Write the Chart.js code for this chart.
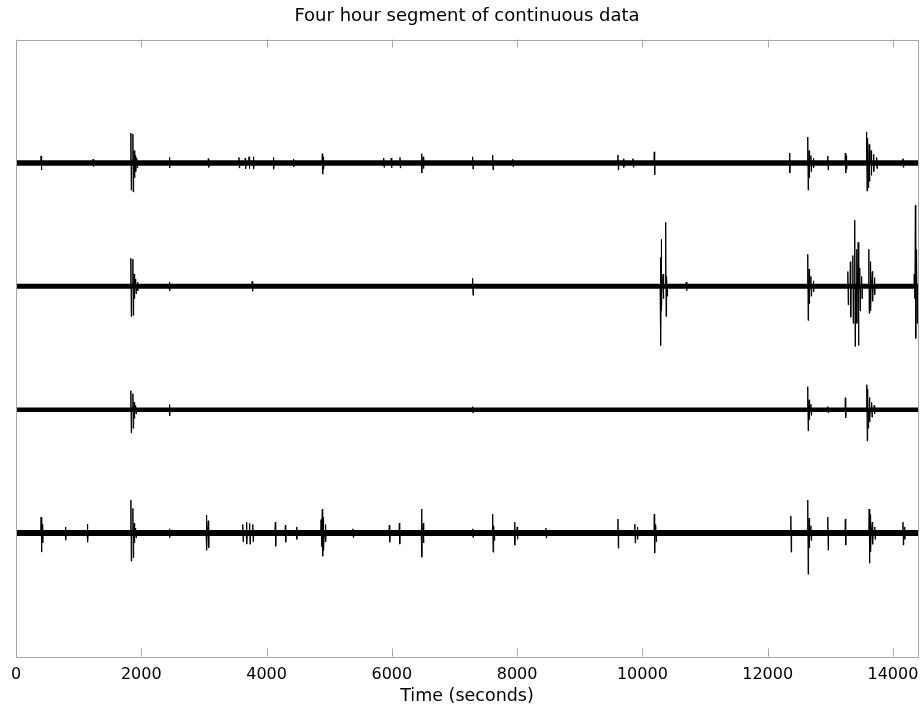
<!DOCTYPE html>
<html>
<head>
<meta charset="utf-8">
<title>Four hour segment of continuous data</title>
<script src="https://cdn.jsdelivr.net/npm/chart.js@4.4.1/dist/chart.umd.min.js"></script>
<style>
  html, body { margin: 0; padding: 0; background: #fff; }
  #wrap { width: 924px; height: 711px; }
</style>
</head>
<body>
<div id="wrap"><canvas id="myChart" width="924" height="711"></canvas></div>
<script>
// x axis: seconds, 4 hours
const xMin = 0;
const xMax = 14400;
const xTicks = [0, 2000, 4000, 6000, 8000, 10000, 12000, 14000];

// trace offsets (top to bottom) on the y scale
const traceNames = ['trace 1', 'trace 2', 'trace 3', 'trace 4'];
const traceOffsets = [4, 3, 2, 1];

// events: [time (s), amplitude up, amplitude down]
const trace1Events = [
    [400, 0.057, 0.057], [1230, 0.03, 0.03],
    [1834, 0.244, 0.22], [1866, 0.235, 0.235], [1885, 0.1, 0.12], [1905, 0.06, 0.07], [1930, 0.04, 0.04],
    [2450, 0.045, 0.04], [3070, 0.035, 0.035],
    [3560, 0.045, 0.04], [3660, 0.04, 0.045], [3720, 0.05, 0.045], [3790, 0.05, 0.05],
    [4110, 0.045, 0.05], [4430, 0.03, 0.03], [4890, 0.075, 0.09], [4910, 0.05, 0.05],
    [5870, 0.04, 0.035], [5990, 0.04, 0.04], [6130, 0.045, 0.04],
    [6475, 0.075, 0.08], [6500, 0.05, 0.045],
    [7290, 0.05, 0.05], [7610, 0.065, 0.057], [7930, 0.03, 0.03],
    [9610, 0.065, 0.057], [9700, 0.035, 0.035], [9850, 0.035, 0.035], [10190, 0.09, 0.097],
    [12350, 0.081, 0.081], [12640, 0.211, 0.219], [12660, 0.1, 0.12], [12690, 0.06, 0.07], [12730, 0.04, 0.04],
    [12960, 0.057, 0.057], [13240, 0.081, 0.081], [13260, 0.06, 0.05],
    [13580, 0.252, 0.227], [13600, 0.2, 0.2], [13620, 0.15, 0.15], [13650, 0.1, 0.1], [13690, 0.07, 0.07], [13740, 0.045, 0.045],
    [14160, 0.035, 0.035]
];
const trace2Events = [
    [1834, 0.227, 0.244], [1866, 0.22, 0.235], [1885, 0.1, 0.1], [1910, 0.06, 0.06], [1940, 0.035, 0.035],
    [2450, 0.035, 0.035], [3770, 0.04, 0.04], [7290, 0.065, 0.073],
    [10288, 0.235, 0.479], [10304, 0.381, 0.2], [10330, 0.1, 0.1], [10372, 0.519, 0.244], [10390, 0.08, 0.08],
    [10700, 0.035, 0.035],
    [12640, 0.26, 0.276], [12660, 0.14, 0.14], [12690, 0.08, 0.08], [12730, 0.045, 0.045],
    [13280, 0.12, 0.15], [13320, 0.2, 0.25], [13360, 0.25, 0.3], [13390, 0.536, 0.487], [13420, 0.3, 0.3],
    [13445, 0.357, 0.479], [13470, 0.15, 0.2], [13500, 0.08, 0.1],
    [13615, 0.30, 0.219], [13640, 0.2, 0.2], [13670, 0.12, 0.12], [13705, 0.07, 0.07],
    [14340, 0.1, 0.1], [14358, 0.657, 0.422], [14380, 0.3, 0.3]
];
const trace3Events = [
    [1834, 0.154, 0.187], [1866, 0.13, 0.15], [1885, 0.06, 0.07], [1910, 0.035, 0.035],
    [2450, 0.041, 0.049], [7290, 0.025, 0.025],
    [12640, 0.187, 0.17], [12660, 0.08, 0.08], [12690, 0.045, 0.045],
    [12960, 0.025, 0.025], [13240, 0.097, 0.065],
    [13583, 0.203, 0.252], [13600, 0.17, 0.15], [13625, 0.1, 0.1], [13660, 0.06, 0.06], [13700, 0.035, 0.035]
];
const trace4Events = [
    [400, 0.13, 0.154], [420, 0.07, 0.08], [790, 0.049, 0.057], [1140, 0.073, 0.073],
    [1834, 0.268, 0.227], [1866, 0.2, 0.2], [1885, 0.08, 0.08], [1910, 0.04, 0.04],
    [2450, 0.035, 0.035], [3040, 0.146, 0.138], [3070, 0.1, 0.12],
    [3620, 0.07, 0.07], [3680, 0.089, 0.089], [3730, 0.08, 0.09], [3780, 0.07, 0.07],
    [4140, 0.089, 0.106], [4300, 0.065, 0.073], [4480, 0.05, 0.05],
    [4870, 0.11, 0.11], [4890, 0.195, 0.187], [4910, 0.13, 0.14], [4940, 0.07, 0.07],
    [5380, 0.035, 0.035], [5960, 0.065, 0.073], [6120, 0.081, 0.089],
    [6475, 0.195, 0.195], [6500, 0.08, 0.08],
    [7290, 0.035, 0.035], [7610, 0.154, 0.154], [7630, 0.06, 0.06], [7960, 0.089, 0.097], [8000, 0.05, 0.05],
    [8460, 0.04, 0.04], [9610, 0.114, 0.122], [9880, 0.073, 0.081], [9920, 0.05, 0.05],
    [10190, 0.154, 0.162], [10215, 0.07, 0.07],
    [12370, 0.138, 0.154], [12640, 0.268, 0.333], [12660, 0.12, 0.12], [12690, 0.06, 0.06],
    [12960, 0.13, 0.138], [13240, 0.114, 0.097],
    [13620, 0.195, 0.244], [13640, 0.15, 0.15], [13670, 0.09, 0.09], [13710, 0.05, 0.05],
    [14160, 0.089, 0.097], [14185, 0.05, 0.05]
];
const allEvents = [trace1Events, trace2Events, trace3Events, trace4Events];

// thickness of the background noise band of each trace
const bandWidths = [5.5, 5, 4.5, 6];

function tracePoints(events, off) {
    let pts = [{x: xMin, y: off}];
    for (const [t, up, down] of events) {
        pts.push({x: t - 6, y: off});
        pts.push({x: t, y: off + up});
        pts.push({x: t + 6, y: off - down});
        pts.push({x: t + 12, y: off});
    }
    pts.push({x: xMax, y: off});
    return pts;
}

let datasets = [];
for (let i = 0; i < traceNames.length; i++) {
    datasets.push({
        label: traceNames[i] + ' noise',
        data: [{x: xMin, y: traceOffsets[i]}, {x: xMax, y: traceOffsets[i]}],
        borderColor: '#000',
        borderWidth: bandWidths[i],
        borderCapStyle: 'butt',
        pointRadius: 0
    });
    datasets.push({
        label: traceNames[i],
        data: tracePoints(allEvents[i], traceOffsets[i]),
        borderColor: '#000',
        borderWidth: 1,
        pointRadius: 0
    });
}

// box round the plot with inward tick marks
const boxPlugin = {
    id: 'box',
    afterDraw(chart) {
        const ctx = chart.ctx;
        const a = chart.chartArea;
        const xs = chart.scales.x;
        ctx.save();
        ctx.strokeStyle = '#a8a8a8';
        ctx.lineWidth = 1;
        ctx.strokeRect(Math.round(a.left) + 0.5, Math.round(a.top) + 0.5,
            Math.round(a.right - a.left), Math.round(a.bottom - a.top));
        ctx.beginPath();
        for (const v of xTicks) {
            const px = Math.round(xs.getPixelForValue(v)) + 0.5;
            ctx.moveTo(px, a.top);
            ctx.lineTo(px, a.top + 8);
            ctx.moveTo(px, a.bottom);
            ctx.lineTo(px, a.bottom - 8);
        }
        ctx.stroke();
        ctx.restore();
    }
};

const config = {
    type: 'line',
    data: { datasets: datasets },
    options: {
        responsive: false,
        animation: false,
        layout: { padding: { left: 16, right: 6, top: 0, bottom: 6 } },
        plugins: {
            legend: { display: false },
            tooltip: { enabled: false },
            title: {
                display: true,
                text: 'Four hour segment of continuous data',
                color: '#000',
                font: { family: 'DejaVu Sans', size: 18, weight: 'normal' },
                padding: { top: 6, bottom: 12 }
            }
        },
        scales: {
            x: {
                type: 'linear',
                min: xMin,
                max: xMax,
                afterBuildTicks: function (scale) {
                    scale.ticks = xTicks.map(v => ({value: v}));
                },
                grid: { display: false, drawTicks: true, tickLength: 10 },
                border: { display: false },
                ticks: {
                    autoSkip: false,
                    maxRotation: 0,
                    color: '#000',
                    padding: 0,
                    font: { family: 'DejaVu Sans', size: 16, lineHeight: 1 },
                    callback: function (value) { return String(value); }
                },
                title: {
                    display: true,
                    text: 'Time (seconds)',
                    color: '#000',
                    font: { family: 'DejaVu Sans', size: 17.5, lineHeight: 1 },
                    padding: { top: 5, bottom: 0 }
                }
            },
            y: {
                display: false,
                min: 0,
                max: 5
            }
        }
    },
    plugins: [boxPlugin]
};

const myChart = new Chart(document.getElementById('myChart'), config);
</script>
</body>
</html>
